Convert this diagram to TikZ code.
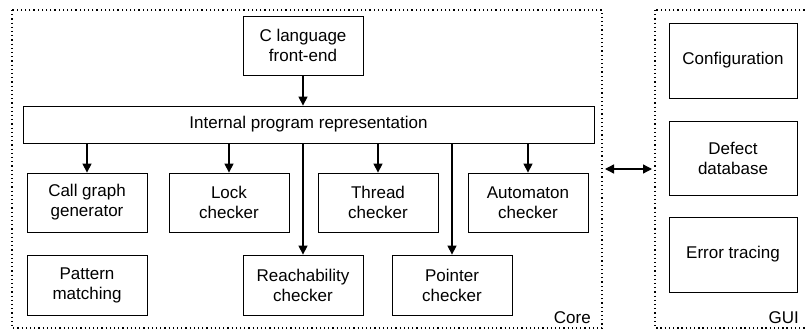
\documentclass[tikz,border=0pt]{standalone}
\usepackage{fontspec}
\setmainfont{Liberation Sans}
\usetikzlibrary{arrows.meta}
\begin{document}
\begin{tikzpicture}[x=1pt,y=-1pt,
  module/.style={draw,line width=0.8pt,rectangle,minimum width=#1,align=center,font=\fontsize{17}{20}\selectfont,inner sep=0pt},
  module/.default=120pt,
  group/.style={draw,line width=1.3pt,dash pattern=on 1.3pt off 2.9pt},
  flow/.style={line width=1.3pt,-{Triangle[length=9pt,width=9pt]}},
  lbl/.style={font=\fontsize{17}{20}\selectfont,anchor=south east,inner sep=0pt}]
\useasboundingbox (0,0) rectangle (807,329);
% group frames
\draw[group] (12,10) rectangle (602,328);
\begin{scope}
\clip (0,0) rectangle (807,329);
\draw[group] (655,10) rectangle (815,328);
\end{scope}
\node[lbl] (corelbl) at (591,324) {Core};
\node[lbl] (guilbl) at (799,324) {GUI};
% core modules
\node[module=120pt,minimum height=59pt] (front) at (303,45.5) {C language\\front-end};
\node[module=571pt,minimum height=37pt] (ir) at (308.5,124.5) {Internal program representation};
\node[module,minimum height=59pt] (callg) at (87,202.5) {Call graph\\generator};
\node[module,minimum height=59pt] (lock) at (229,202.5) {Lock\\checker};
\node[module,minimum height=59pt] (thread) at (378,202.5) {Thread\\checker};
\node[module,minimum height=59pt] (autom) at (528,202.5) {Automaton\\checker};
\node[module,minimum height=60pt] (pattern) at (87,285) {Pattern\\matching};
\node[module,minimum height=60pt] (reach) at (303,285) {Reachability\\checker};
\node[module,minimum height=60pt] (pointer) at (452,285) {Pointer\\checker};
% gui modules
\node[module=128pt,minimum height=75pt] (config) at (733,60.5) {Configuration};
\node[module=128pt,minimum height=74pt] (defect) at (733,158) {Defect\\database};
\node[module=128pt,minimum height=75pt] (errtr) at (733,254.5) {Error tracing};
% data flow
\draw[flow] (front) -- (front |- ir.north);
\draw[flow] (ir.south -| callg.north) -- (callg.north);
\draw[flow] (ir.south -| lock.north) -- (lock.north);
\draw[flow] (ir.south -| thread.north) -- (thread.north);
\draw[flow] (ir.south -| autom.north) -- (autom.north);
\draw[flow] (ir.south -| reach.north) -- (reach.north);
\draw[flow] (ir.south -| pointer.north) -- (pointer.north);
\coordinate (coreedge) at (605,169);
\coordinate (guiedge) at (652,169);
\draw[line width=1.3pt,{Triangle[length=9pt,width=9pt]}-{Triangle[length=9pt,width=9pt]}] (coreedge) -- (guiedge);
\end{tikzpicture}
\end{document}
